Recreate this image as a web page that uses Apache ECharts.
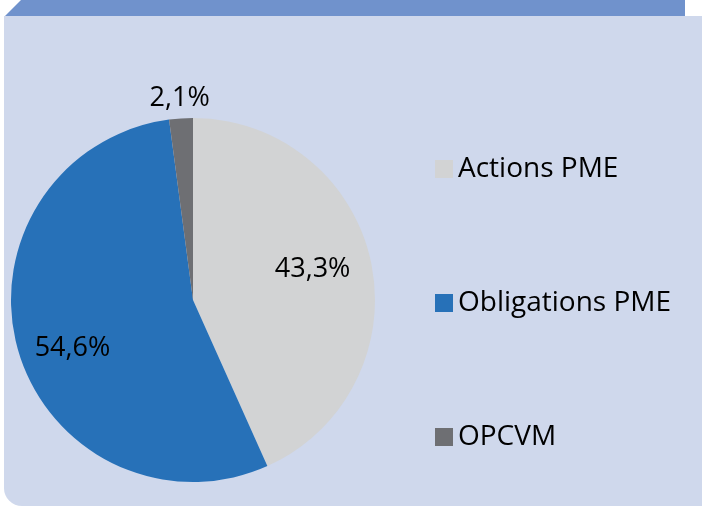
<!DOCTYPE html>
<html><head><meta charset="utf-8">
<script src="https://cdn.jsdelivr.net/npm/echarts@6/dist/echarts.min.js"></script>
<style>html,body{margin:0;padding:0;background:#fff}#c{width:702px;height:506px}</style>
</head><body><div id="c"></div>
<script>
const categories = ['Actions PME', 'Obligations PME', 'OPCVM'];
const values = [43.3, 54.6, 2.1];
const labels = ['43,3%', '54,6%', '2,1%'];
const colors = ['#d2d3d4', '#2771b8', '#6e6f73'];
const labelOffsets = [[-8, -3], [5, 13], [34, -16]];

const chart = echarts.init(document.getElementById('c'));
const FONT = '"Open Sans", sans-serif';
const FS = 27;
const mainData = categories.map((n, i) => ({
  name: n, value: values[i],
  itemStyle: { color: colors[i] },
  label: { show: i === 2, formatter: labels[i], offset: labelOffsets[i] }
}));
const overlayData = categories.map((n, i) => ({
  name: n, value: values[i],
  label: { show: i !== 2, formatter: labels[i], offset: labelOffsets[i] }
}));
chart.setOption({
  animation: false,
  graphic: [
    { type: 'rect', shape: { x: 4, y: 16, width: 698, height: 490, r: [0, 0, 0, 18] }, style: { fill: '#cfd8ec' }, z: -10 },
    { type: 'polygon', shape: { points: [[5, 16], [21, 0], [685, 0], [685, 16]] }, style: { fill: '#7092cc' }, z: -10 }
  ],
  legend: {
    orient: 'vertical', left: 430, top: 150,
    itemWidth: 18, itemHeight: 18, itemGap: 106,
    icon: 'rect',
    textStyle: { fontFamily: FONT, fontSize: 28, lineHeight: 28, color: '#000', padding: [0, 0, 0, 0] },
    data: categories
  },
  series: [
    {
      type: 'pie', center: [193, 300], radius: 182, startAngle: 90, clockwise: true,
      data: mainData,
      label: { position: 'outside', fontFamily: FONT, fontSize: FS, color: '#000' },
      labelLine: { show: false, length: 4, length2: 0 },
      emphasis: { disabled: true }
    },
    {
      type: 'pie', center: [193, 300], radius: 255, startAngle: 90, clockwise: true, silent: true,
      data: overlayData,
      itemStyle: { color: 'rgba(0,0,0,0)' },
      label: { position: 'inside', fontFamily: FONT, fontSize: FS, color: '#000' },
      labelLine: { show: false },
      legendHoverLink: false
    }
  ]
});
</script></body></html>
